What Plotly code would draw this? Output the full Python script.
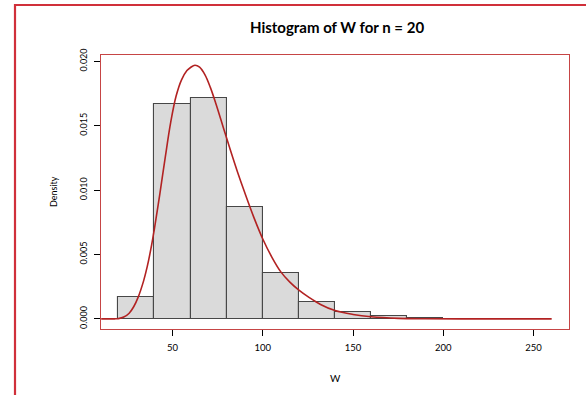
import plotly.graph_objects as go

# Histogram data (density per 20-unit bin)
bin_left = [20, 40, 60, 80, 100, 120, 140, 160, 180, 200]
bin_width = 20
density = [0.00167, 0.01667, 0.01715, 0.00872, 0.00356, 0.00128, 0.00051, 0.00020, 0.00004, 0.00002]

# Fitted density curve
curve_x = [10.5, 18, 20, 23, 26, 28.5, 31, 34, 36, 38, 40, 43, 46, 49, 52, 55, 58, 60, 62.4,
           65, 68, 71, 74, 78, 82, 86, 90, 95, 100, 105, 110, 115, 120, 126, 132, 140, 150,
           160, 175, 190, 210, 235, 260]
curve_y = [0, 0, 0.00002, 0.00014, 0.00044, 0.00094, 0.00169, 0.00295, 0.00405, 0.00541,
           0.00701, 0.00971, 0.01256, 0.01526, 0.0173, 0.01856, 0.01928, 0.01952, 0.01969,
           0.019544, 0.018944, 0.017954, 0.016724, 0.014924, 0.013124, 0.011404, 0.009804,
           0.0079, 0.0062, 0.0048, 0.00365, 0.00285, 0.00223, 0.00163, 0.00112, 0.00064,
           0.00034, 0.00016, 0.00004, 0.00001, 0.000002, 0, 0]

x_ticks = [50, 100, 150, 200, 250]
y_ticks = [0, 0.005, 0.010, 0.015, 0.020]
y_ticktext = ["0.000", "0.005", "0.010", "0.015", "0.020"]

FONT = "Lato"
W, H = 586, 395
L, R, T, B = 101, 17, 55, 66
PW, PH = W - L - R, H - T - B

def px2x(px):
    return (px - L) / PW

def py2y(py):
    return (H - B - py) / PH

fig = go.Figure()
fig.add_trace(go.Bar(
    x=[b + bin_width / 2 for b in bin_left], y=density, width=bin_width,
    marker=dict(color="#dadada", line=dict(color="#474747", width=1.1)),
    hoverinfo="skip", showlegend=False))
fig.add_trace(go.Scatter(
    x=curve_x, y=curve_y, mode="lines",
    line=dict(color="#b22222", width=1.6, shape="spline", smoothing=1.0),
    showlegend=False))

red_box = "#c64545"
fig.update_xaxes(range=[10.4, 269.6], tickvals=x_ticks, ticks="outside", ticklen=6,
                 tickcolor="black", tickwidth=1, showgrid=False, zeroline=False,
                 showline=True, mirror=True, linecolor=red_box, linewidth=1,
                 tickfont=dict(family=FONT, size=9.5, color="black"),
                 ticklabelstandoff=4)
fig.update_yaxes(range=[-0.000788, 0.020488], tickvals=y_ticks, ticktext=y_ticktext,
                 ticks="outside", ticklen=6, tickcolor="black", tickwidth=1,
                 tickangle=-90, showgrid=False, zeroline=False,
                 showline=True, mirror=True, linecolor=red_box, linewidth=1,
                 tickfont=dict(family=FONT, size=9, color="black"),
                 ticklabelstandoff=3)

annotations = [
    dict(text="<b>Histogram of W for n = 20</b>", x=px2x(337), y=py2y(27), xref="paper",
         yref="paper", xanchor="center", yanchor="middle", showarrow=False,
         font=dict(family=FONT, size=15, color="black")),
    dict(text="Density", x=px2x(53), y=py2y(192), xref="paper", yref="paper",
         xanchor="center", yanchor="middle", showarrow=False, textangle=-90,
         font=dict(family=FONT, size=9, color="black")),
    dict(text="W", x=px2x(335), y=py2y(378), xref="paper", yref="paper",
         xanchor="center", yanchor="middle", showarrow=False,
         font=dict(family=FONT, size=10, color="black")),
]

frame = "#d0303a"
shapes = [
    dict(type="line", xref="paper", yref="paper", x0=px2x(14), x1=px2x(586),
         y0=py2y(5), y1=py2y(5), line=dict(color=frame, width=2.2)),
    dict(type="line", xref="paper", yref="paper", x0=px2x(15), x1=px2x(15),
         y0=py2y(4), y1=py2y(395), line=dict(color=frame, width=2.2)),
]

fig.update_layout(width=W, height=H, margin=dict(l=L, r=R, t=T, b=B, autoexpand=False),
                  paper_bgcolor="white", plot_bgcolor="white", bargap=0,
                  annotations=annotations, shapes=shapes,
                  font=dict(family=FONT, color="black"))

fig.write_html("out.html")
